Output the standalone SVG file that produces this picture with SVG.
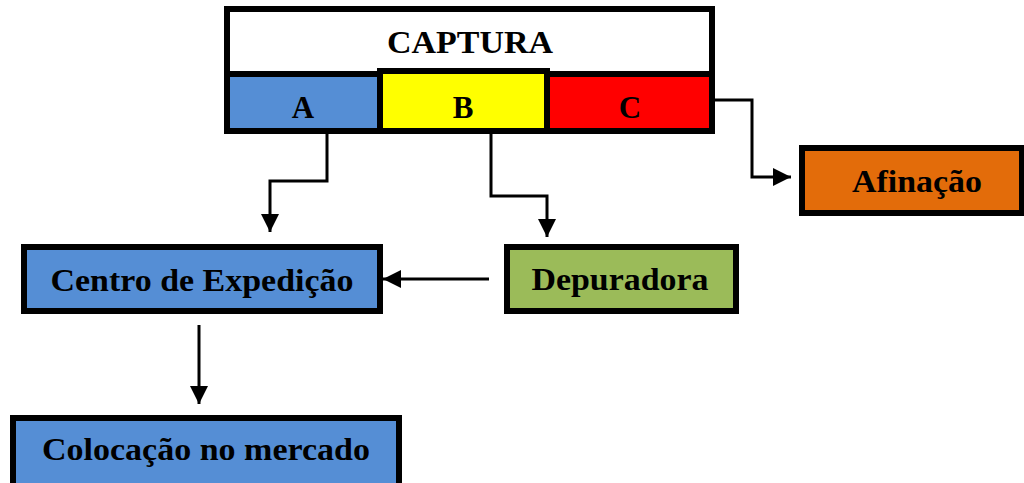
<svg xmlns="http://www.w3.org/2000/svg" width="1024" height="483" viewBox="0 0 1024 483">
<style>
.box{stroke:#000;stroke-width:6}
.lbl{font-family:"Liberation Serif","Times New Roman",serif;font-weight:bold;font-size:31px;fill:#000;text-anchor:middle}
.con{fill:none;stroke:#000;stroke-width:3}
</style>
<defs>
<marker id="arr" markerUnits="userSpaceOnUse" markerWidth="20" markerHeight="20" viewBox="0 0 20 20" refX="18" refY="10" orient="auto">
<path d="M0,1 L18,10 L0,19 Z" fill="#000"/>
</marker>
</defs>
<rect width="1024" height="483" fill="#fff"/>
<g id="captura">
<rect class="box" x="227" y="9" width="485" height="122" fill="#fff"/>
<text class="lbl" x="470" y="53" textLength="166" lengthAdjust="spacingAndGlyphs">CAPTURA</text>
</g>
<g id="cellA">
<rect class="box" x="227" y="74" width="153" height="57" fill="#558ED5"/>
<text class="lbl" x="303" y="118">A</text>
</g>
<g id="cellC">
<rect class="box" x="547" y="74" width="165" height="57" fill="#FF0000"/>
<text class="lbl" x="630" y="118">C</text>
</g>
<g id="cellB">
<rect class="box" x="380" y="71" width="167" height="60" fill="#FFFF00"/>
<text class="lbl" x="463" y="118">B</text>
</g>
<g id="afinacao">
<rect class="box" x="802" y="148" width="220" height="65" fill="#E36C0A"/>
<text class="lbl" x="917" y="192" textLength="130" lengthAdjust="spacingAndGlyphs">Afinação</text>
</g>
<g id="centro">
<rect class="box" x="24" y="247" width="356" height="64" fill="#558ED5"/>
<text class="lbl" x="202" y="291" textLength="303" lengthAdjust="spacingAndGlyphs">Centro de Expedição</text>
</g>
<g id="depuradora">
<rect class="box" x="507" y="247" width="229" height="64" fill="#9BBB59"/>
<text class="lbl" x="620" y="290" textLength="177" lengthAdjust="spacingAndGlyphs">Depuradora</text>
</g>
<g id="colocacao">
<rect class="box" x="13" y="418" width="386" height="70" fill="#558ED5"/>
<text class="lbl" x="206" y="460" textLength="328" lengthAdjust="spacingAndGlyphs">Colocação no mercado</text>
</g>
<g id="connectors">
<path class="con" d="M327,134 V181 H270 V232" marker-end="url(#arr)"/>
<path class="con" d="M491,134 V196 H547 V237" marker-end="url(#arr)"/>
<path class="con" d="M715,100 H752 V177 H791" marker-end="url(#arr)"/>
<path class="con" d="M489,279 H383" marker-end="url(#arr)"/>
<path class="con" d="M199,325 V404" marker-end="url(#arr)"/>
</g>
</svg>
